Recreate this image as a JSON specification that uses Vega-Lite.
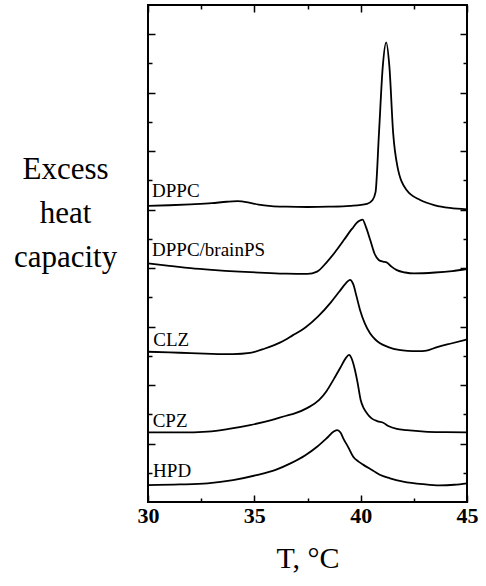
{
  "$schema": "https://vega.github.io/schema/vega-lite/v6.json",
  "width": 319,
  "height": 497,
  "autosize": "none",
  "padding": {"left": 148, "top": 5, "right": 19, "bottom": 84},
  "background": "white",
  "config": {
    "view": {"stroke": "black", "strokeWidth": 2},
    "axis": {"domain": false, "grid": false, "tickColor": "black", "tickWidth": 1.5, "labelColor": "black", "titleColor": "black"}
  },
  "datasets": {
    "curves": [
      {"s": "DPPC", "T": 30, "C": 10.13}, {"s": "DPPC", "T": 31, "C": 10.15}, {"s": "DPPC", "T": 32, "C": 10.18}, {"s": "DPPC", "T": 33, "C": 10.22}, {"s": "DPPC", "T": 33.7, "C": 10.27}, {"s": "DPPC", "T": 34.2, "C": 10.29}, {"s": "DPPC", "T": 34.7, "C": 10.25}, {"s": "DPPC", "T": 35.2, "C": 10.17}, {"s": "DPPC", "T": 35.8, "C": 10.12}, {"s": "DPPC", "T": 36.5, "C": 10.1}, {"s": "DPPC", "T": 37.5, "C": 10.09}, {"s": "DPPC", "T": 38.5, "C": 10.1}, {"s": "DPPC", "T": 39.5, "C": 10.13}, {"s": "DPPC", "T": 40.3, "C": 10.2}, {"s": "DPPC", "T": 40.55, "C": 10.32}, {"s": "DPPC", "T": 40.7, "C": 10.6}, {"s": "DPPC", "T": 40.86, "C": 12.6}, {"s": "DPPC", "T": 41.04, "C": 14.9}, {"s": "DPPC", "T": 41.2, "C": 15.72}, {"s": "DPPC", "T": 41.35, "C": 14.9}, {"s": "DPPC", "T": 41.53, "C": 12.6}, {"s": "DPPC", "T": 41.73, "C": 11.47}, {"s": "DPPC", "T": 42.16, "C": 10.67}, {"s": "DPPC", "T": 42.8, "C": 10.33}, {"s": "DPPC", "T": 43.5, "C": 10.15}, {"s": "DPPC", "T": 44.2, "C": 10.06}, {"s": "DPPC", "T": 45, "C": 10.01},
      {"s": "PS", "T": 30, "C": 8.16}, {"s": "PS", "T": 31, "C": 8.08}, {"s": "PS", "T": 32, "C": 8.0}, {"s": "PS", "T": 33, "C": 7.94}, {"s": "PS", "T": 34.3, "C": 7.88}, {"s": "PS", "T": 35.5, "C": 7.84}, {"s": "PS", "T": 36.5, "C": 7.81}, {"s": "PS", "T": 37.5, "C": 7.8}, {"s": "PS", "T": 37.95, "C": 7.88}, {"s": "PS", "T": 38.4, "C": 8.2}, {"s": "PS", "T": 38.8, "C": 8.55}, {"s": "PS", "T": 39.2, "C": 8.95}, {"s": "PS", "T": 39.6, "C": 9.35}, {"s": "PS", "T": 39.9, "C": 9.6}, {"s": "PS", "T": 40.09, "C": 9.66}, {"s": "PS", "T": 40.25, "C": 9.4}, {"s": "PS", "T": 40.45, "C": 8.96}, {"s": "PS", "T": 40.65, "C": 8.5}, {"s": "PS", "T": 40.85, "C": 8.28}, {"s": "PS", "T": 41.05, "C": 8.22}, {"s": "PS", "T": 41.22, "C": 8.2}, {"s": "PS", "T": 41.45, "C": 8.05}, {"s": "PS", "T": 41.7, "C": 7.93}, {"s": "PS", "T": 42.1, "C": 7.85}, {"s": "PS", "T": 42.5, "C": 7.82}, {"s": "PS", "T": 43.5, "C": 7.85}, {"s": "PS", "T": 44.3, "C": 7.9}, {"s": "PS", "T": 45, "C": 7.97},
      {"s": "CLZ", "T": 30, "C": 5.14}, {"s": "CLZ", "T": 31, "C": 5.12}, {"s": "CLZ", "T": 32, "C": 5.09}, {"s": "CLZ", "T": 33, "C": 5.07}, {"s": "CLZ", "T": 34, "C": 5.06}, {"s": "CLZ", "T": 34.8, "C": 5.1}, {"s": "CLZ", "T": 35.5, "C": 5.25}, {"s": "CLZ", "T": 36.2, "C": 5.45}, {"s": "CLZ", "T": 36.8, "C": 5.7}, {"s": "CLZ", "T": 37.4, "C": 5.97}, {"s": "CLZ", "T": 38.0, "C": 6.35}, {"s": "CLZ", "T": 38.6, "C": 6.83}, {"s": "CLZ", "T": 39.0, "C": 7.2}, {"s": "CLZ", "T": 39.3, "C": 7.48}, {"s": "CLZ", "T": 39.5, "C": 7.6}, {"s": "CLZ", "T": 39.65, "C": 7.45}, {"s": "CLZ", "T": 39.8, "C": 7.05}, {"s": "CLZ", "T": 39.97, "C": 6.57}, {"s": "CLZ", "T": 40.2, "C": 6.1}, {"s": "CLZ", "T": 40.44, "C": 5.77}, {"s": "CLZ", "T": 40.7, "C": 5.55}, {"s": "CLZ", "T": 40.91, "C": 5.43}, {"s": "CLZ", "T": 41.3, "C": 5.3}, {"s": "CLZ", "T": 41.8, "C": 5.2}, {"s": "CLZ", "T": 42.2, "C": 5.17}, {"s": "CLZ", "T": 42.7, "C": 5.16}, {"s": "CLZ", "T": 43.1, "C": 5.18}, {"s": "CLZ", "T": 43.6, "C": 5.3}, {"s": "CLZ", "T": 44.3, "C": 5.43}, {"s": "CLZ", "T": 45, "C": 5.56},
      {"s": "CPZ", "T": 30, "C": 2.38}, {"s": "CPZ", "T": 31.5, "C": 2.38}, {"s": "CPZ", "T": 32.8, "C": 2.41}, {"s": "CPZ", "T": 33.8, "C": 2.5}, {"s": "CPZ", "T": 34.8, "C": 2.63}, {"s": "CPZ", "T": 35.8, "C": 2.8}, {"s": "CPZ", "T": 36.5, "C": 2.95}, {"s": "CPZ", "T": 36.9, "C": 3.03}, {"s": "CPZ", "T": 37.5, "C": 3.22}, {"s": "CPZ", "T": 38.05, "C": 3.49}, {"s": "CPZ", "T": 38.4, "C": 3.8}, {"s": "CPZ", "T": 38.75, "C": 4.22}, {"s": "CPZ", "T": 39.05, "C": 4.6}, {"s": "CPZ", "T": 39.3, "C": 4.92}, {"s": "CPZ", "T": 39.45, "C": 5.03}, {"s": "CPZ", "T": 39.58, "C": 4.9}, {"s": "CPZ", "T": 39.72, "C": 4.55}, {"s": "CPZ", "T": 39.85, "C": 4.1}, {"s": "CPZ", "T": 40.0, "C": 3.49}, {"s": "CPZ", "T": 40.15, "C": 3.2}, {"s": "CPZ", "T": 40.3, "C": 3.03}, {"s": "CPZ", "T": 40.5, "C": 2.87}, {"s": "CPZ", "T": 40.8, "C": 2.76}, {"s": "CPZ", "T": 41.06, "C": 2.71}, {"s": "CPZ", "T": 41.3, "C": 2.6}, {"s": "CPZ", "T": 41.7, "C": 2.5}, {"s": "CPZ", "T": 42.16, "C": 2.46}, {"s": "CPZ", "T": 43, "C": 2.41}, {"s": "CPZ", "T": 44, "C": 2.39}, {"s": "CPZ", "T": 45, "C": 2.38},
      {"s": "HPD", "T": 30, "C": 0.58}, {"s": "HPD", "T": 31.5, "C": 0.6}, {"s": "HPD", "T": 32.8, "C": 0.64}, {"s": "HPD", "T": 34, "C": 0.75}, {"s": "HPD", "T": 35.1, "C": 0.92}, {"s": "HPD", "T": 36, "C": 1.1}, {"s": "HPD", "T": 36.7, "C": 1.32}, {"s": "HPD", "T": 37.4, "C": 1.6}, {"s": "HPD", "T": 37.95, "C": 1.89}, {"s": "HPD", "T": 38.4, "C": 2.18}, {"s": "HPD", "T": 38.75, "C": 2.42}, {"s": "HPD", "T": 38.9, "C": 2.46}, {"s": "HPD", "T": 39.05, "C": 2.38}, {"s": "HPD", "T": 39.2, "C": 2.15}, {"s": "HPD", "T": 39.42, "C": 1.87}, {"s": "HPD", "T": 39.65, "C": 1.55}, {"s": "HPD", "T": 39.9, "C": 1.38}, {"s": "HPD", "T": 40.13, "C": 1.27}, {"s": "HPD", "T": 40.59, "C": 1.07}, {"s": "HPD", "T": 40.9, "C": 0.93}, {"s": "HPD", "T": 41.38, "C": 0.81}, {"s": "HPD", "T": 42, "C": 0.7}, {"s": "HPD", "T": 42.94, "C": 0.61}, {"s": "HPD", "T": 43.7, "C": 0.57}, {"s": "HPD", "T": 44.4, "C": 0.59}, {"s": "HPD", "T": 45, "C": 0.64}
    ],
    "labels": [
      {"name": "DPPC", "T": 30.19, "C": 10.43},
      {"name": "DPPC/brainPS", "T": 30.19, "C": 8.41},
      {"name": "CLZ", "T": 30.25, "C": 5.35},
      {"name": "CPZ", "T": 30.22, "C": 2.58},
      {"name": "HPD", "T": 30.24, "C": 0.84}
    ]
  },
  "layer": [
    {
      "data": {"name": "curves"},
      "mark": {"type": "line", "color": "black", "strokeWidth": 1.8, "interpolate": "monotone"},
      "encoding": {
        "x": {
          "field": "T", "type": "quantitative",
          "scale": {"domain": [30, 45], "nice": false, "zero": false},
          "axis": {
            "orient": "bottom",
            "values": [30, 32.5, 35, 37.5, 40, 42.5, 45],
            "format": "d",
            "tickSize": {"condition": {"test": "datum.value % 5 === 0", "value": -7}, "value": -4},
            "labelExpr": "datum.value % 5 === 0 ? datum.label : ''",
            "labelFont": "Liberation Serif", "labelFontWeight": "bold", "labelFontSize": 22,
            "labelPadding": 10, "labelFlush": false, "labelOverlap": false,
            "title": "T, °C", "titleFont": "Liberation Serif", "titleFontSize": 30, "titleFontWeight": "normal",
            "titleBaseline": "alphabetic", "titleY": 65
          }
        },
        "y": {
          "field": "C", "type": "quantitative",
          "scale": {"domain": [0, 17], "nice": false, "zero": false},
          "axis": {
            "orient": "left",
            "values": [1, 2, 3, 4, 5, 6, 7, 8, 9, 10, 11, 12, 13, 14, 15, 16],
            "tickSize": {"condition": {"test": "datum.value % 2 === 0", "value": -7}, "value": -4},
            "labels": false,
            "title": ["Excess", "heat", "capacity"],
            "titleFont": "Liberation Serif", "titleFontSize": 31, "titleFontWeight": "normal",
            "titleAngle": 0, "titleAlign": "center", "titleBaseline": "alphabetic",
            "titleLineHeight": 44, "titleX": -83, "titleY": 173
          }
        },
        "detail": {"field": "s", "type": "nominal"}
      }
    },
    {
      "data": {"name": "labels"},
      "mark": {"type": "text", "align": "left", "baseline": "alphabetic", "font": "Liberation Serif", "fontSize": 19, "color": "black"},
      "encoding": {
        "x": {
          "field": "T", "type": "quantitative",
          "scale": {"domain": [30, 45], "nice": false, "zero": false},
          "axis": {
            "orient": "top",
            "values": [30, 32.5, 35, 37.5, 40, 42.5, 45],
            "tickSize": {"condition": {"test": "datum.value % 5 === 0", "value": -7}, "value": -4},
            "labels": false, "title": null
          }
        },
        "y": {
          "field": "C", "type": "quantitative",
          "scale": {"domain": [0, 17], "nice": false, "zero": false},
          "axis": {
            "orient": "right",
            "values": [1, 2, 3, 4, 5, 6, 7, 8, 9, 10, 11, 12, 13, 14, 15, 16],
            "tickSize": {"condition": {"test": "datum.value % 2 === 0", "value": -7}, "value": -4},
            "labels": false, "title": null
          }
        },
        "text": {"field": "name", "type": "nominal"}
      }
    }
  ],
  "resolve": {"axis": {"x": "independent", "y": "independent"}}
}
